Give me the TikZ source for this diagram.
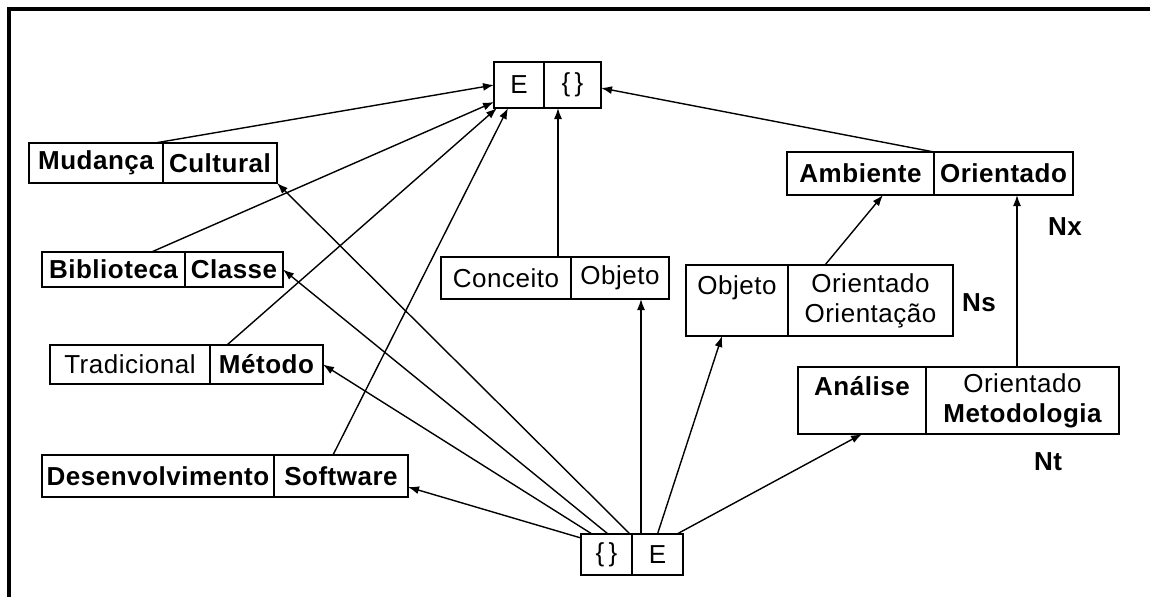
\documentclass[tikz,border=0pt]{standalone}
\usepackage{fontspec}
\setmainfont{Liberation Sans}[LetterSpace=2]
\usetikzlibrary{arrows.meta,positioning}

\tikzset{
  cell/.style={draw, line width=1.5pt, inner sep=0pt, outer sep=0pt, align=center, font=\fontsize{26}{30}\selectfont},
  conn/.style={line width=1.4pt, -{Latex[length=11pt,width=8pt]}},
  tag/.style={font=\fontsize{26}{30}\selectfont\bfseries}
}

\begin{document}
\begin{tikzpicture}[x=1pt,y=-1pt]
\useasboundingbox (0,0) rectangle (1150,597);
%Frame
\draw [line width=3.5pt] (1150,9) -- (9,9) -- (9,597);

%Shape: Box top
\node [cell, minimum width=50, minimum height=46] (topE) at (519,85) {E};
\node [cell, minimum width=57, minimum height=46, right=0pt of topE] (topB) {\{\,\}};
%Shape: Box Mudanca
\node [cell, minimum width=134, minimum height=40] (mud) at (96,163) {\bfseries Mudança};
\node [cell, minimum width=114, minimum height=40, right=0pt of mud] (cult) {\bfseries Cultural};
%Shape: Box Biblioteca
\node [cell, minimum width=143, minimum height=35] (bib) at (113.5,269.5) {\bfseries Biblioteca};
\node [cell, minimum width=98, minimum height=35, right=0pt of bib] (cla) {\bfseries Classe};
%Shape: Box Tradicional
\node [cell, minimum width=160, minimum height=39] (trad) at (130,364.5) {Tradicional};
\node [cell, minimum width=113, minimum height=39, right=0pt of trad] (met) {\bfseries Método};
%Shape: Box Desenvolvimento
\node [cell, minimum width=232, minimum height=42] (des) at (158,476) {\bfseries Desenvolvimento};
\node [cell, minimum width=134, minimum height=42, right=0pt of des] (soft) {\bfseries Software};
%Shape: Box Conceito
\node [cell, minimum width=130, minimum height=42] (conc) at (506,278) {Conceito};
\node [cell, minimum width=98, minimum height=42, right=0pt of conc] (obja) {Objeto};
%Shape: Box Ambiente
\node [cell, minimum width=147, minimum height=43] (amb) at (860.5,173.5) {\bfseries Ambiente};
\node [cell, minimum width=139, minimum height=43, right=0pt of amb] (oria) {\bfseries Orientado};
%Shape: Box Objeto
\node [cell, minimum width=102, minimum height=71] (objb) at (737,300.5) {Objeto\\~};
\node [cell, minimum width=165, minimum height=71, right=0pt of objb] (orib) {Orientado\\Orientação};
%Shape: Box Analise
\node [cell, minimum width=128, minimum height=67] (ana) at (862,400.5) {\bfseries Análise\\~};
\node [cell, minimum width=193, minimum height=67, right=0pt of ana] (oric) {Orientado\\\bfseries Metodologia};
%Shape: Box bottom
\node [cell, minimum width=51, minimum height=41] (botB) at (606.5,554.5) {\{\,\}};
\node [cell, minimum width=51, minimum height=41, right=0pt of botB] (botE) {E};

% Text Node
\node [tag] (nx) at (1065,227) {Nx};
% Text Node
\node [tag] (ns) at (979,303) {Ns};
% Text Node
\node [tag] (nt) at (1048,462) {Nt};

%Straight Lines into top box
\draw [conn] ([xshift=-8]mud.north east) -- (topE.west);
\draw [conn] ([xshift=38]bib.north) -- ([yshift=6]topE.south west);
\draw [conn] ([xshift=17]met.north west) -- ([xshift=3]topE.south west);
\draw [conn] ([xshift=59]soft.north west) -- ([xshift=14]topE.south west);
\draw [conn] ([xshift=-13]conc.north east) -- ([xshift=14]topB.south west);
\draw [conn] (amb.north east) -- ([yshift=-3]topB.east);
%Straight Lines into Ambiente
\draw [conn] ([xshift=37]orib.north west) -- ([xshift=22.5]amb.south);
\draw [conn] ([xshift=91]oric.north west) -- ([xshift=13.5]oria.south);
%Straight Lines from bottom box
\draw [conn] ([xshift=-2]botE.north west) -- (cult.south east);
\draw [conn] ([xshift=27]botB.north west) -- (cla.east);
\draw [conn] ([xshift=11]botB.north west) -- (met.east);
\draw [conn] ([yshift=-4]botB.north west) -- ([yshift=-11]soft.east);
\draw [conn] ([xshift=9]botE.north west) -- ([xshift=21]obja.south);
\draw [conn] (botE.north) -- ([xshift=-15]objb.south);
\draw [conn] ([xshift=-6]botE.north east) -- (ana.south);

\end{tikzpicture}
\end{document}
